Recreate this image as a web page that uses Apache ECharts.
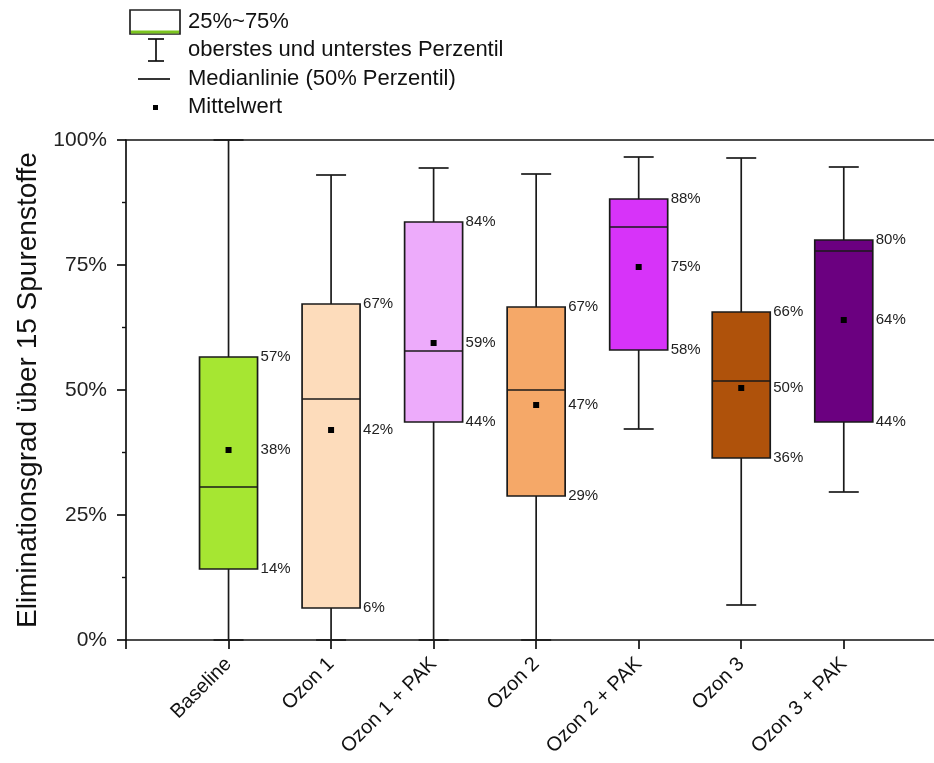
<!DOCTYPE html>
<html>
<head>
<meta charset="utf-8">
<script src="https://cdn.jsdelivr.net/npm/echarts@6/dist/echarts.min.js"></script>
<style>
  html, body { margin: 0; padding: 0; background: #fff; }
  #chart { width: 934px; height: 763px; }
</style>
</head>
<body>
<div id="chart"></div>
<script>
// Kategorien und Kennwerte (in %)
const categories = ['Baseline', 'Ozon 1', 'Ozon 1 + PAK', 'Ozon 2', 'Ozon 2 + PAK', 'Ozon 3', 'Ozon 3 + PAK'];
const whiskerLow = [0, 0, 0, 0, 42.2, 7, 29.6];
const q1 = [14.2, 6.4, 43.6, 28.8, 58, 36.4, 43.6];
const median = [30.6, 48.2, 57.8, 50, 82.6, 51.8, 77.8];
const q3 = [56.6, 67.2, 83.6, 66.6, 88.2, 65.6, 80];
const whiskerHigh = [100, 93, 94.4, 93.2, 96.6, 96.4, 94.6];
const mean = [38, 42, 59.4, 47, 74.6, 50.4, 64];
const boxColors = ['#a6e632', '#fddcbb', '#edabfb', '#f5a868', '#d733f9', '#af520b', '#6b0080'];
const yTicks = [0, 25, 50, 75, 100];

const FONT = 'Liberation Sans, Arial, sans-serif';
const chart = echarts.init(document.getElementById('chart'));

const boxData = categories.map(function (c, i) {
  return [i + 1, whiskerLow[i], q1[i], median[i], q3[i], whiskerHigh[i], mean[i]];
});

function renderBox(params, api) {
  const i = params.dataIndex;
  const x = api.value(0);
  const pLow = api.coord([x, api.value(1)]);
  const pQ1 = api.coord([x, api.value(2)]);
  const pMed = api.coord([x, api.value(3)]);
  const pQ3 = api.coord([x, api.value(4)]);
  const pHigh = api.coord([x, api.value(5)]);
  const pMean = api.coord([x, api.value(6)]);
  const cx = pQ1[0];
  const halfBox = 29;
  const halfCap = 15;
  const line = { stroke: '#1a1a1a', lineWidth: 1.7 };
  const lbl = function (val, y) {
    return {
      type: 'text',
      style: {
        x: cx + halfBox + 3, y: y, text: Math.round(val) + '%',
        fill: '#222', font: '15px ' + FONT, verticalAlign: 'middle'
      }
    };
  };
  return {
    type: 'group',
    children: [
      { type: 'line', shape: { x1: cx, y1: pLow[1], x2: cx, y2: pQ1[1] }, style: line },
      { type: 'line', shape: { x1: cx, y1: pQ3[1], x2: cx, y2: pHigh[1] }, style: line },
      { type: 'line', shape: { x1: cx - halfCap, y1: pLow[1], x2: cx + halfCap, y2: pLow[1] }, style: line },
      { type: 'line', shape: { x1: cx - halfCap, y1: pHigh[1], x2: cx + halfCap, y2: pHigh[1] }, style: line },
      {
        type: 'rect',
        shape: { x: cx - halfBox, y: pQ3[1], width: halfBox * 2, height: pQ1[1] - pQ3[1] },
        style: { fill: boxColors[i], stroke: '#1a1a1a', lineWidth: 1.7 }
      },
      { type: 'line', shape: { x1: cx - halfBox, y1: pMed[1], x2: cx + halfBox, y2: pMed[1] }, style: line },
      { type: 'rect', shape: { x: cx - 3, y: pMean[1] - 3, width: 6, height: 6 }, style: { fill: '#000' } },
      lbl(api.value(4), pQ3[1]),
      lbl(api.value(6), pMean[1]),
      lbl(api.value(2), pQ1[1])
    ]
  };
}

// Legende oben
const legendText = { fill: '#111', font: '22px ' + FONT, verticalAlign: 'middle' };
const legendLine = { stroke: '#111', lineWidth: 1.7 };

const option = {
  animation: false,
  backgroundColor: '#fff',
  grid: { left: 126, right: 0, top: 140, bottom: 123, containLabel: false },
  xAxis: [{
    type: 'value',
    min: 0,
    max: 7.88,
    interval: 1,
    splitLine: { show: false },
    axisLine: { show: true, lineStyle: { color: '#111', width: 1.7 } },
    axisTick: { show: true, length: 9, lineStyle: { color: '#111', width: 1.7 } },
    axisLabel: {
      rotate: 45,
      fontSize: 20,
      fontFamily: FONT,
      color: '#111',
      margin: 21,
      showMaxLabel: false,
      formatter: function (v) {
        const idx = Math.round(v) - 1;
        return categories[idx] || '';
      }
    }
  }, {
    type: 'value',
    position: 'top',
    min: 0,
    max: 7.88,
    splitLine: { show: false },
    axisLine: { show: true, lineStyle: { color: '#111', width: 1.7 } },
    axisTick: { show: false },
    axisLabel: { show: false }
  }],
  yAxis: {
    type: 'value',
    min: yTicks[0],
    max: yTicks[yTicks.length - 1],
    interval: 25,
    name: 'Eliminationsgrad über 15 Spurenstoffe',
    nameLocation: 'middle',
    nameGap: 84,
    nameTextStyle: { fontSize: 28, fontFamily: FONT, color: '#111' },
    splitLine: { show: false },
    axisLine: { show: true, lineStyle: { color: '#111', width: 1.7 } },
    axisTick: { show: true, length: 9, lineStyle: { color: '#111', width: 1.7 } },
    minorTick: { show: true, splitNumber: 2, length: 4, lineStyle: { color: '#111', width: 1.4 } },
    axisLabel: {
      fontSize: 21,
      fontFamily: FONT,
      color: '#222',
      margin: 19,
      formatter: '{value}%'
    }
  },
  series: [{
    type: 'custom',
    renderItem: renderBox,
    encode: { x: 0, y: [1, 2, 3, 4, 5, 6] },
    data: boxData,
    clip: false,
    z: 10
  }],
  graphic: [
    { type: 'rect', shape: { x: 130, y: 10, width: 50, height: 24 }, style: { fill: '#fff', stroke: '#222', lineWidth: 1.7 } },
    { type: 'line', shape: { x1: 131, y1: 32, x2: 179, y2: 32 }, style: { stroke: '#7cc520', lineWidth: 3 } },
    { type: 'text', style: Object.assign({ x: 188, y: 22, text: '25%~75%' }, legendText) },
    { type: 'line', shape: { x1: 156, y1: 39, x2: 156, y2: 61 }, style: legendLine },
    { type: 'line', shape: { x1: 148, y1: 39, x2: 164, y2: 39 }, style: legendLine },
    { type: 'line', shape: { x1: 148, y1: 61, x2: 164, y2: 61 }, style: legendLine },
    { type: 'text', style: Object.assign({ x: 188, y: 50, text: 'oberstes und unterstes Perzentil' }, legendText) },
    { type: 'line', shape: { x1: 138, y1: 79, x2: 170, y2: 79 }, style: legendLine },
    { type: 'text', style: Object.assign({ x: 188, y: 79, text: 'Medianlinie (50% Perzentil)' }, legendText) },
    { type: 'rect', shape: { x: 153, y: 105, width: 5, height: 5 }, style: { fill: '#000' } },
    { type: 'text', style: Object.assign({ x: 188, y: 107, text: 'Mittelwert' }, legendText) }
  ]
};

chart.setOption(option);
</script>
</body>
</html>
